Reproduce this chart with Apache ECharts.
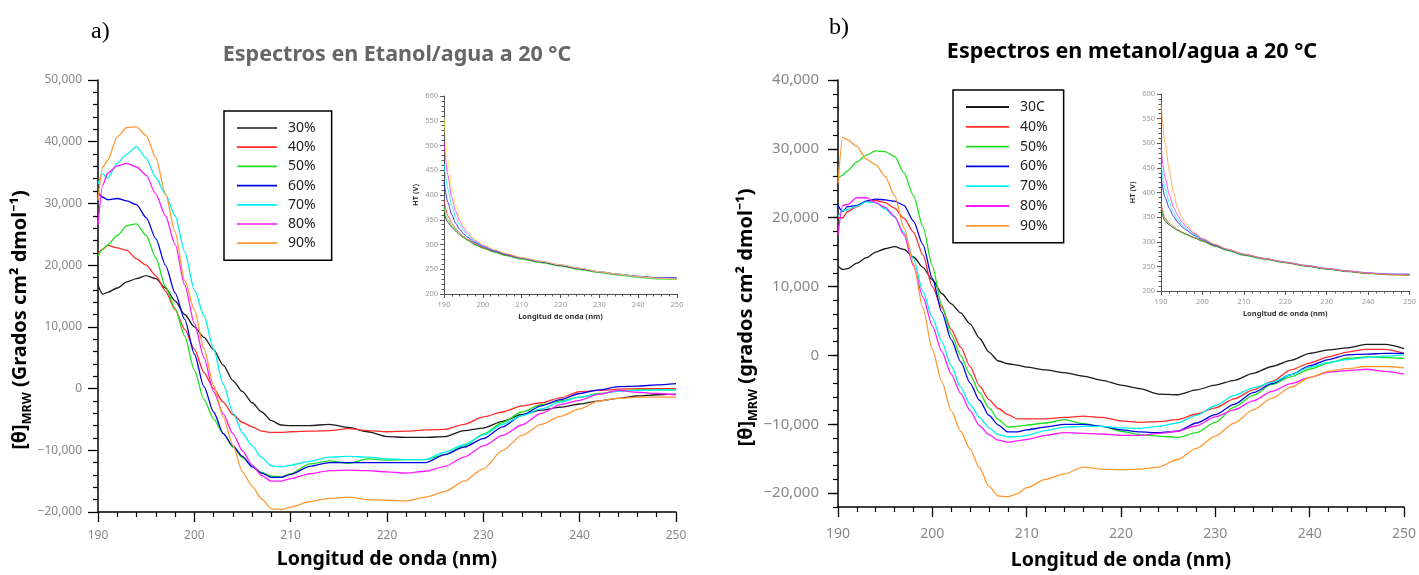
<!DOCTYPE html>
<html><head><meta charset="utf-8">
<script src="https://cdn.jsdelivr.net/npm/echarts@6/dist/echarts.min.js"></script>
<style>html,body{margin:0;padding:0;background:#fff}#c{width:1419px;height:575px}</style>
</head><body><div id="c"></div>
<script>
// ---------- DATA ----------
const wavelengths = [190,190.5,191,192,193,194,195,196,197,198,199,200,201,202,203,204,205,206,207,208,209,210,212,214,216,218,220,222,224,226,228,230,232,234,236,238,240,242,244,246,248,250];

// Panel a) Etanol/agua  [θ]MRW
const etanol30 = [16800,15300,15600,16300,17300,17800,18300,17800,16300,14200,12000,10000,8300,6300,3800,1300,-500,-2300,-3800,-5200,-5900,-6000,-6000,-5800,-6300,-7000,-7800,-7900,-7900,-7800,-6800,-6400,-5300,-4200,-3500,-3000,-2500,-2000,-1600,-1200,-1000,-900];
const etanol40 = [21900,22600,23200,22800,22400,21000,20000,18300,15800,12800,9600,6400,2600,0,-2200,-4200,-5500,-6200,-6900,-7100,-7100,-7000,-6900,-6800,-6500,-6800,-7000,-6900,-6700,-6600,-5800,-4600,-3800,-2800,-2300,-1500,-500,-300,-100,0,0,0];
const etanol50 = [21500,22600,23300,24800,26400,26700,24800,21200,16500,13000,8500,3000,-1800,-4900,-7300,-9500,-11200,-12500,-13600,-14200,-14300,-13800,-12200,-11700,-12100,-11400,-11600,-11500,-11500,-10700,-9300,-7400,-5500,-3800,-2600,-2000,-1400,-800,-400,-200,-200,-200];
const etanol60 = [31800,31000,30600,30800,30400,29800,27700,24300,20000,15500,11200,5600,300,-3800,-7300,-9300,-11000,-12700,-13700,-14400,-14400,-13900,-12600,-12000,-12000,-12000,-12000,-12000,-12000,-10700,-9500,-8100,-6200,-4300,-2800,-1800,-800,-200,300,400,600,800];
const etanol70 = [33200,34800,34100,36500,38000,39200,37300,34200,31500,28000,22200,16000,11800,6400,700,-3900,-7200,-9300,-11200,-12500,-12700,-12400,-11800,-11100,-11000,-11100,-11400,-11500,-11500,-10300,-9100,-7500,-5800,-4400,-3300,-2200,-1400,-900,-400,-300,-200,-200];
const etanol80 = [26500,33000,34900,36100,36500,35900,34600,31500,28000,23400,16800,10600,5000,-500,-4100,-7300,-10100,-12400,-14100,-15000,-15000,-14600,-13800,-13300,-13200,-13300,-13500,-13700,-13400,-12600,-11100,-9300,-7600,-5900,-4000,-2600,-1900,-900,-300,-600,-800,-1000];
const etanol90 = [30500,35900,37000,40800,42300,42400,41000,37400,31600,25400,17500,12800,6500,500,-4600,-9200,-13500,-15800,-17900,-19500,-19600,-19200,-18300,-17800,-17600,-18000,-18100,-18200,-17600,-16700,-15000,-13000,-10000,-7600,-5800,-4500,-3300,-2000,-1600,-1400,-1400,-1400];

// Panel b) metanol/agua  [θ]MRW
const metanol30 = [13000,12500,12600,13400,14200,15000,15500,15800,15400,14300,12800,11000,9000,7500,6200,4600,2500,500,-800,-1200,-1400,-1700,-2100,-2500,-3000,-3600,-4300,-4800,-5600,-5700,-5000,-4300,-3600,-2600,-1600,-700,300,800,1100,1600,1600,1000];
const metanol40 = [20000,20000,20900,21600,22400,22500,22200,21400,19900,17900,14600,10000,7000,3800,1200,-1600,-4400,-6400,-7700,-8600,-9200,-9200,-9200,-9000,-8800,-9000,-9500,-9700,-9600,-9300,-8500,-7600,-6300,-5000,-3800,-2100,-1100,-200,500,900,900,300];
const metanol50 = [25700,26200,26800,28100,29100,29700,29600,28900,26500,23200,18700,13000,7300,3100,0,-2800,-5400,-7600,-9300,-10400,-10300,-10100,-9800,-9300,-9900,-10300,-11000,-11500,-11700,-11900,-11200,-9700,-7500,-5800,-4200,-3100,-2000,-1100,-400,-200,-300,-400];
const metanol60 = [21800,20900,21600,21800,22400,22700,22600,22400,21800,19500,16100,11200,6300,2300,-900,-4000,-6500,-8700,-10100,-11100,-11100,-10800,-10400,-10000,-10000,-10300,-10800,-11100,-11200,-11000,-9800,-8600,-7100,-5400,-4100,-2800,-1500,-600,100,200,300,300];
const metanol70 = [20200,21000,21200,21700,22300,22200,21300,20100,17800,14000,9300,5500,2000,-1500,-4600,-7100,-9000,-10500,-11500,-11800,-11800,-11600,-10900,-10400,-10300,-10300,-10500,-10600,-10300,-9800,-8700,-7300,-5800,-4700,-3900,-2800,-1700,-1000,-600,-300,-100,100];
const metanol80 = [17500,21800,21900,22900,22900,22200,21500,20200,17500,13000,8500,4300,600,-2700,-5500,-8000,-10200,-11500,-12300,-12600,-12400,-12200,-11600,-11200,-11300,-11400,-11600,-11600,-11300,-11000,-10200,-8900,-7900,-6600,-5200,-4100,-3200,-2400,-2200,-2000,-2300,-2700];
const metanol90 = [25000,31700,31300,30400,28500,27700,26000,23200,18500,13300,6900,900,-3800,-8000,-11000,-13600,-16300,-19000,-20400,-20500,-20100,-19200,-18000,-17200,-16200,-16500,-16600,-16500,-16200,-15100,-13500,-11700,-9800,-7900,-6200,-4600,-3200,-2300,-1900,-1600,-1600,-1800];

// Insets: HT (V)
const wavelengthsHT = [190,191,192,193,194,195,196,198,200,203,206,210,215,220,225,230,235,240,245,250];
const htEtanol30 = [363,345,335,327,320,314,309,300,293,285,278,271,264,257,250,244,239,235,232,231];
const htEtanol40 = [390,358,343,332,324,317,311,302,294,286,279,272,265,258,251,244,239,235,232,231];
const htEtanol50 = [376,350,338,329,321,315,309,299,292,284,277,270,263,256,249,243,238,233,230,229];
const htEtanol60 = [427,385,360,343,331,322,315,304,296,287,280,273,265,258,251,245,240,236,233,233];
const htEtanol70 = [464,412,378,355,340,328,319,306,297,288,281,273,266,259,252,245,240,235,232,231];
const htEtanol80 = [508,440,395,367,348,334,323,308,298,289,281,273,266,259,252,245,240,235,232,231];
const htEtanol90 = [558,470,415,380,356,340,328,311,300,290,282,274,266,259,252,245,240,235,232,230];
const htMetanol30 = [365,342,334,328,323,319,315,308,301,291,283,273,265,258,251,245,240,236,234,233];
const htMetanol40 = [378,348,338,331,325,320,316,309,302,292,283,273,265,258,251,245,240,236,233,232];
const htMetanol50 = [372,345,336,329,324,319,315,308,301,291,282,272,264,257,250,244,239,235,233,232];
const htMetanol60 = [432,390,368,352,340,331,324,313,304,293,284,274,266,258,251,245,240,236,234,234];
const htMetanol70 = [460,408,380,360,346,335,327,315,305,294,284,274,266,259,252,246,241,237,234,234];
const htMetanol80 = [490,430,395,370,354,341,331,317,306,294,285,275,266,259,252,246,241,237,234,234];
const htMetanol90 = [582,500,445,400,368,350,337,319,307,295,285,275,266,258,251,245,240,236,233,232];

const namesA = ['30%','40%','50%','60%','70%','80%','90%'];
const namesB = ['30C','40%','50%','60%','70%','80%','90%'];
const yTicksB = [-20000,-10000,0,10000,20000,30000,40000];

// ---------- STYLE ----------
const colors = ['#1a1a1a','#ff2a2a','#1ee01e','#0000e6','#00f0f0','#ff1aff','#ff9933'];
const colorsInsetA = ['#1a1a1a','#ff2a2a','#1ee01e','#0000e6','#00f0f0','#ff1aff','#ffee33'];
const FONT = '"Noto Sans", "Open Sans", sans-serif';
const LINE_ICON = 'path://M0,0H40V1.7H0Z';

function fmtNum(v){ return (v<0?'\u2212':'') + Math.abs(v).toLocaleString('en-US'); }
function pairs(wl, vals){ return wl.map((w,i)=>[w, vals[i]]); }
function line(name, wl, vals, xi, color, width, opacity){
  return {type:'line', name:name, xAxisIndex:xi, yAxisIndex:xi, data:pairs(wl, vals),
    symbol:'none', smooth:0.25, smoothMonotone:'x', silent:true,
    lineStyle:{color:color, width:width, opacity:opacity}, itemStyle:{color:color}};
}

const mainA = [etanol30,etanol40,etanol50,etanol60,etanol70,etanol80,etanol90];
const mainB = [metanol30,metanol40,metanol50,metanol60,metanol70,metanol80,metanol90];
const insA = [htEtanol30,htEtanol40,htEtanol50,htEtanol60,htEtanol70,htEtanol80,htEtanol90];
const insB = [htMetanol30,htMetanol40,htMetanol50,htMetanol60,htMetanol70,htMetanol80,htMetanol90];

const series = [];
mainA.forEach((v,i)=>series.push(line(namesA[i], wavelengths, v, 0, colors[i], 1.3, 1)));
mainB.forEach((v,i)=>series.push(line(namesB[i], wavelengths, v, 1, colors[i], 1.3, 1)));
insA.forEach((v,i)=>series.push(line('HT a '+namesA[i], wavelengthsHT, v, 2, colorsInsetA[i], 1, 0.75)));
insB.forEach((v,i)=>series.push(line('HT b '+namesB[i], wavelengthsHT, v, 3, colors[i], 1, 0.75)));

const axLine = {show:true, onZero:false, lineStyle:{color:'#000', width:1.5}};

function xMain(grid, labelSize, margin, nameGap){
  return {type:'value', gridIndex:grid, min:190, max:250, interval:10,
    axisLine:axLine, axisTick:{show:true, length:10, lineStyle:{color:'#000', width:1.3}},
    minorTick:{show:true, splitNumber:5, length:5, lineStyle:{color:'#000', width:1.2}},
    splitLine:{show:false}, minorSplitLine:{show:false},
    axisLabel:{color:'#888', fontSize:labelSize, fontFamily:FONT, margin:margin},
    name:'Longitud de onda (nm)', nameLocation:'middle', nameGap:nameGap,
    nameTextStyle:{color:'#000', fontSize:19.5, fontWeight:'bold', fontFamily:FONT}};
}
function yName(word){
  return '{b|[θ]}{s|MRW}{b| ('+word+' cm² dmol⁻¹)}';
}
const yNameRich = {
  b:{fontSize:20, fontWeight:'bold', color:'#000', fontFamily:FONT},
  s:{fontSize:12.5, fontWeight:'bold', color:'#000', fontFamily:FONT, verticalAlign:'bottom', padding:[0,0,-3,0]}
};

function xInset(grid){
  return {type:'value', gridIndex:grid, min:190, max:250, interval:10,
    axisLine:{show:true, onZero:false, lineStyle:{color:'#555', width:1}},
    axisTick:{show:true, length:4, lineStyle:{color:'#555'}},
    minorTick:{show:true, splitNumber:5, length:2.5, lineStyle:{color:'#555'}},
    splitLine:{show:false},
    axisLabel:{color:'#999', fontSize:7.5, fontFamily:FONT, margin:7},
    name:'Longitud de onda (nm)', nameLocation:'middle', nameGap:19,
    nameTextStyle:{color:'#333', fontSize:7.5, fontWeight:'bold', fontFamily:FONT}};
}
function yInset(grid){
  return {type:'value', gridIndex:grid, min:200, max:600, interval:50,
    axisLine:{show:true, onZero:false, lineStyle:{color:'#555', width:1}},
    axisTick:{show:true, length:4, lineStyle:{color:'#555'}},
    minorTick:{show:true, splitNumber:5, length:2.5, lineStyle:{color:'#555'}},
    splitLine:{show:false},
    axisLabel:{color:'#999', fontSize:7.5, fontFamily:FONT, margin:6},
    name:'HT (V)', nameLocation:'middle', nameGap:24, nameRotate:90,
    nameTextStyle:{color:'#333', fontSize:7.5, fontWeight:'bold', fontFamily:FONT}};
}

function legend(data, left, top, itemWidth, gap){
  return {data:data, icon:LINE_ICON, orient:'vertical', left:left, top:top,
    itemWidth:itemWidth, itemHeight:14, itemGap:gap, symbolKeepAspect:true,
    padding:[10,16,10,13], borderColor:'#000', borderWidth:1.5, backgroundColor:'#fff',
    selectedMode:false,
    textStyle:{color:'#222', fontSize:14, fontFamily:FONT, padding:[0,0,0,6]}};
}

const option = {
  animation:false,
  backgroundColor:'#fff',
  title:[
    {text:'Espectros en Etanol/agua a 20 °C', left:392, top:39, textAlign:'center',
     textStyle:{color:'#666', fontSize:21.5, fontWeight:'bold', fontFamily:FONT}},
    {text:'Espectros en metanol/agua a 20 °C', left:1127, top:36, textAlign:'center',
     textStyle:{color:'#000', fontSize:21.5, fontWeight:'bold', fontFamily:FONT}}
  ],
  graphic:[
    {type:'text', left:91, top:20, style:{text:'a)', font:'24px "Liberation Serif", serif', fill:'#000'}},
    {type:'text', left:829, top:16, style:{text:'b)', font:'24px "Liberation Serif", serif', fill:'#000'}}
  ],
  legend:[ legend(namesA, 224, 111, 40, 5.2), legend(namesB, 953, 90, 43, 5.8) ],
  grid:[
    {left:98, top:80, width:578, height:432},
    {left:838, top:80, width:566, height:434},
    {left:444, top:96, width:233, height:198},
    {left:1161, top:94, width:252, height:197}
  ],
  xAxis:[ xMain(0, 12, 18, 37), xMain(1, 14, 20, 43), xInset(2), xInset(3) ],
  yAxis:[
    {type:'value', gridIndex:0, min:-20000, max:50000, interval:10000,
     axisLine:axLine, axisTick:{show:true, length:10, lineStyle:{color:'#000', width:1.3}},
     minorTick:{show:true, splitNumber:5, length:5, lineStyle:{color:'#000', width:1.2}},
     splitLine:{show:false},
     axisLabel:{color:'#888', fontSize:12, fontFamily:FONT, margin:16, formatter:fmtNum},
     name:yName('Grados'), nameLocation:'middle', nameRotate:90, nameGap:62,
     nameTextStyle:{rich:yNameRich, padding:[0,48,0,0]}},
    {type:'value', gridIndex:1, min:-22000, max:40000,
     axisLine:axLine,
     axisTick:{show:true, length:10, customValues:yTicksB, lineStyle:{color:'#000', width:1.3}},
     splitLine:{show:false},
     axisLabel:{color:'#888', fontSize:15, fontFamily:FONT, margin:19, formatter:fmtNum, customValues:yTicksB},
     name:yName('grados'), nameLocation:'middle', nameRotate:90, nameGap:74,
     nameTextStyle:{rich:yNameRich, padding:[0,48,0,0]}},
    yInset(2),
    yInset(3),
    {type:'value', gridIndex:1, position:'left', offset:0, min:-22000, max:40000, interval:2000,
     axisLine:{show:false, onZero:false}, axisLabel:{show:false}, splitLine:{show:false},
     axisTick:{show:true, length:5, lineStyle:{color:'#000', width:1.2}}}
  ],
  series:series
};

const chart = echarts.init(document.getElementById('c'), null, {renderer:'canvas'});
chart.setOption(option);
</script>
</body></html>
